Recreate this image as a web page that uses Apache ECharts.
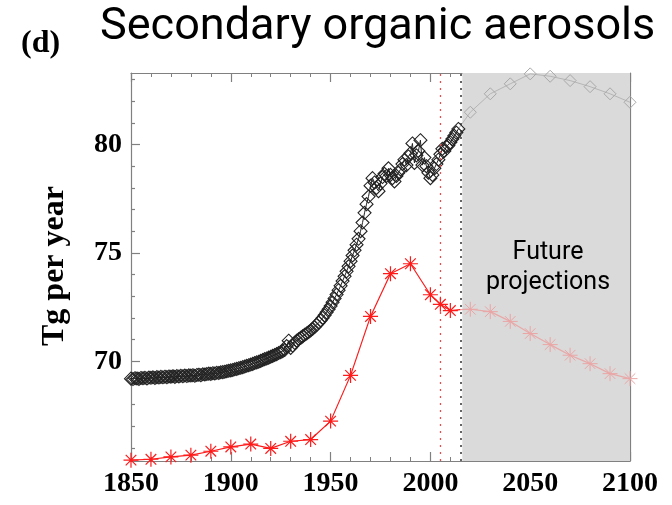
<!DOCTYPE html>
<html><head><meta charset="utf-8">
<script src="https://cdn.jsdelivr.net/npm/echarts@6/dist/echarts.min.js"></script>
<style>html,body{margin:0;padding:0;background:#fff}#c{width:672px;height:505px}</style>
</head><body><div id="c"></div>
<script>
// Historical annual black series (diamonds), 1850-2014
const histStartYear = 1850;
const histValues = [
  69.20, 69.18, 69.22, 69.21, 69.19, 69.23, 69.22, 69.24, 69.21, 69.25,
  69.24, 69.26, 69.23, 69.27, 69.25, 69.28, 69.26, 69.29, 69.27, 69.30,
  69.29, 69.31, 69.28, 69.32, 69.30, 69.33, 69.31, 69.34, 69.32, 69.35,
  69.34, 69.36, 69.33, 69.37, 69.38, 69.36, 69.40, 69.39, 69.41, 69.43,
  69.42, 69.45, 69.44, 69.47, 69.46, 69.49, 69.50, 69.52, 69.54, 69.56,
  69.58, 69.60, 69.63, 69.65, 69.68, 69.70, 69.73, 69.76, 69.79, 69.82,
  69.85, 69.88, 69.92, 69.95, 69.98, 70.02, 70.06, 70.10, 70.13, 70.17,
  70.21, 70.25, 70.29, 70.33, 70.38, 70.42, 70.47, 70.52, 70.70, 70.95,
  70.62, 70.72, 70.85, 70.95, 71.02, 71.08, 71.15, 71.22, 71.28, 71.35,
  71.42, 71.50, 71.58, 71.68, 71.78, 71.88, 72.00, 72.12, 72.26, 72.40,
  72.55, 72.72, 72.90, 73.08, 73.28, 73.48, 73.70, 73.92, 74.15, 74.38,
  74.62, 74.88, 75.12, 75.38, 75.65, 76.00, 76.40, 76.85, 77.25, 77.60,
  78.10, 78.45, 78.25, 78.00, 77.85, 78.20, 78.50, 78.65, 78.55, 78.90,
  78.60, 78.45, 78.30, 78.55, 78.70, 78.85, 79.10, 79.30, 79.05, 79.45,
  79.60, 80.05, 79.15, 79.50, 79.70, 80.20, 79.05, 79.40, 79.00, 78.70,
  78.45, 78.60, 78.90, 79.10, 79.30, 79.55, 79.80, 79.70, 79.90, 79.95,
  80.10, 80.25, 80.40, 80.55, 80.72
];
// Future black projection (faded diamonds)
const futureBlackYears = [2014, 2020, 2030, 2040, 2050, 2060, 2070, 2080, 2090, 2100];
const futureBlackValues = [80.72, 81.49, 82.34, 82.80, 83.26, 83.15, 82.95, 82.67, 82.34, 81.95];
// Red series (stars)
const redYears = [1850, 1860, 1870, 1880, 1890, 1900, 1910, 1920, 1930, 1940, 1950, 1960, 1970, 1980, 1990, 2000, 2005, 2010, 2015];
const redValues = [65.44, 65.48, 65.59, 65.67, 65.85, 66.05, 66.18, 65.98, 66.31, 66.39, 67.24, 69.35, 72.07, 74.04, 74.50, 73.07, 72.63, 72.34, 72.38];
const redFutureYears = [2015, 2020, 2030, 2040, 2050, 2060, 2070, 2080, 2090, 2100];
const redFutureValues = [72.38, 72.40, 72.29, 71.84, 71.28, 70.77, 70.28, 69.89, 69.43, 69.20];
// Axis ticks
const xTickLabels = [1850, 1900, 1950, 2000, 2050, 2100];
const yMajorTicks = [70, 75, 80];
const yMinorTicks = [66, 67, 68, 69, 71, 72, 73, 74, 76, 77, 78, 79, 81, 82, 83];
const refLineRed = 2005, refLineBlack = 2015, futureStart = 2016, futureEnd = 2100;

const histData = histValues.map((v, i) => [histStartYear + i, v]);
const futBlackData = futureBlackYears.map((y, i) => i === 0 ? {value: [y, futureBlackValues[i]], symbol: 'none'} : [y, futureBlackValues[i]]);
const redData = redYears.map((y, i) => y === 2015 ? {value: [y, redValues[i]], symbol: 'none'} : [y, redValues[i]]);
const redFutData = redFutureYears.map((y, i) => i === 0 ? {value: [y, redFutureValues[i]], symbol: 'none'} : [y, redFutureValues[i]]);

const star = 'path://M0,-10L0,10M-10,0L10,0M-7.07,-7.07L7.07,7.07M-7.07,7.07L7.07,-7.07';
const serif = '"Liberation Serif","Times New Roman",serif';
const axisCol = '#808080';
const YMIN = 65.4, YMAX = 83.3;

function yAx(pos, ticks, len, showLabel, showLine) {
  return {
    type: 'value', min: YMIN, max: YMAX, position: pos, offset: 0,
    axisLine: {show: showLine, lineStyle: {color: axisCol, width: 1.2}},
    axisTick: {show: true, inside: true, length: len, customValues: ticks, lineStyle: {color: axisCol, width: 1.2}},
    axisLabel: {show: showLabel, customValues: ticks, fontFamily: serif, fontWeight: 'bold', fontSize: 28, color: '#000', margin: 9},
    splitLine: {show: false}
  };
}

const chart = echarts.init(document.getElementById('c'), null, {renderer: 'canvas'});
chart.setOption({
  animation: false,
  backgroundColor: '#fff',
  title: {
    text: 'Secondary organic aerosols', left: 95, top: 0,
    textStyle: {fontFamily: 'Roboto, "Noto Sans", sans-serif', fontWeight: 'normal', fontSize: 45, color: '#000'}
  },
  graphic: [
    {type: 'text', left: 21, top: 28, style: {text: '(d)', font: 'bold 32px ' + serif, fill: '#000'}},
    {type: 'text', x: 55, y: 266, rotation: Math.PI / 2, style: {text: 'Tg per year', font: 'bold 32px ' + serif, fill: '#000', align: 'center', verticalAlign: 'middle'}},
    {type: 'text', x: 548, y: 268, style: {text: 'Future\nprojections', font: '25px Roboto, sans-serif', fill: '#000', align: 'center', verticalAlign: 'middle', lineHeight: 30}, z: 100}
  ],
  grid: {left: 131, right: 42, top: 73, bottom: 44},
  xAxis: [
    {
      type: 'value', min: 1850, max: 2100, interval: 50, position: 'bottom',
      axisLine: {lineStyle: {color: axisCol, width: 1.2}},
      axisTick: {inside: true, length: 9, lineStyle: {color: axisCol, width: 1.2}},
      minorTick: {show: true, splitNumber: 5, length: 4, lineStyle: {color: axisCol}},
      axisLabel: {fontFamily: serif, fontWeight: 'bold', fontSize: 28, color: '#000', margin: 9, formatter: v => xTickLabels.includes(v) ? String(v) : ''},
      splitLine: {show: false}
    },
    {
      type: 'value', min: 1850, max: 2100, interval: 50, position: 'top',
      axisLine: {lineStyle: {color: axisCol, width: 1.2}},
      axisTick: {inside: true, length: 9, lineStyle: {color: axisCol, width: 1.2}},
      minorTick: {show: true, splitNumber: 5, length: 4, lineStyle: {color: axisCol}},
      axisLabel: {show: false}, splitLine: {show: false}
    }
  ],
  yAxis: [
    yAx('left', yMajorTicks, 9, true, true),
    yAx('left', yMinorTicks, 4, false, false),
    yAx('right', yMajorTicks, 9, false, true),
    yAx('right', yMinorTicks, 4, false, false)
  ],
  series: [
    {
      type: 'line', data: [], z: 1,
      markArea: {silent: true, itemStyle: {color: '#dadada'}, data: [[{xAxis: futureStart}, {xAxis: futureEnd}]]},
      markLine: {silent: true, symbol: 'none', label: {show: false},
        data: [
          {xAxis: refLineRed, lineStyle: {color: '#e05050', type: [2, 5], width: 1.3}},
          {xAxis: refLineBlack, lineStyle: {color: '#333', type: [2, 5], width: 1.5}}
        ]}
    },
    {
      type: 'line', data: futBlackData, z: 3,
      symbol: 'diamond', symbolSize: 12,
      lineStyle: {color: '#b5b5b5', width: 1},
      itemStyle: {color: 'rgba(0,0,0,0)', borderColor: '#a8a8a8', borderWidth: 1}
    },
    {
      type: 'line', data: redFutData, z: 3,
      symbol: star, symbolSize: 15,
      lineStyle: {color: '#e8a8a8', width: 1.2},
      itemStyle: {color: 'rgba(0,0,0,0)', borderColor: '#eaa5a5', borderWidth: 1}
    },
    {
      type: 'line', data: histData, z: 4,
      symbol: 'diamond', symbolSize: 13,
      lineStyle: {color: '#222', width: 1},
      itemStyle: {color: 'rgba(0,0,0,0)', borderColor: '#222', borderWidth: 1.1}
    },
    {
      type: 'line', data: redData, z: 5,
      symbol: star, symbolSize: 15,
      lineStyle: {color: '#ff1a1a', width: 1.2},
      itemStyle: {color: 'rgba(0,0,0,0)', borderColor: '#ff1a1a', borderWidth: 1.2}
    }
  ]
});
</script>
</body></html>
